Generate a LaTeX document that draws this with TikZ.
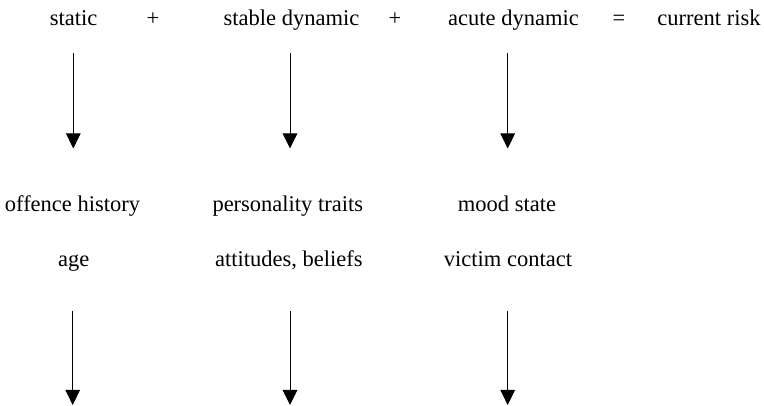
\documentclass[tikz,border=0pt]{standalone}
\usepackage{fontspec}
\setmainfont{Liberation Serif}
\usetikzlibrary{arrows.meta}
\begin{document}
\begin{tikzpicture}[x=1pt,y=-1pt,
  lbl/.style={anchor=base,inner sep=0pt,font=\fontsize{22.5}{27}\selectfont},
  arr/.style={line width=1pt,-{Triangle[width=14.5pt,length=15pt]}}]
\useasboundingbox (0,0) rectangle (764,406);
% top row
\node[lbl] (static) at (73.5,26) {static};
\node[lbl] (p1) at (153,26) {+};
\node[lbl] (stable) at (291.5,26) {stable dynamic};
\node[lbl] (p2) at (395,26) {+};
\node[lbl] (acute) at (513.5,26) {acute dynamic};
\node[lbl] (eq) at (619,26) {=};
\node[lbl] (risk) at (709,26) {current risk};
% middle rows
\node[lbl] (offence) at (72.5,212) {offence history};
\node[lbl] (age) at (73.8,266.5) {age};
\node[lbl] (pers) at (287.8,212) {personality traits};
\node[lbl] (att) at (288.8,266.5) {attitudes, beliefs};
\node[lbl] (mood) at (507,212) {mood state};
\node[lbl] (victim) at (508,266.5) {victim contact};
% arrow ends
\coordinate (s1) at (73.3,53);  \coordinate (e1) at (73.3,148.5);
\coordinate (s2) at (290,53);   \coordinate (e2) at (290,148.5);
\coordinate (s3) at (507.7,53); \coordinate (e3) at (507.7,148.5);
\coordinate (s4) at (72.7,311); \coordinate (e4) at (72.7,405);
\coordinate (s5) at (290,311);  \coordinate (e5) at (290,405);
\coordinate (s6) at (507.7,311);\coordinate (e6) at (507.7,405);
\draw[arr] (s1) -- (e1);
\draw[arr] (s2) -- (e2);
\draw[arr] (s3) -- (e3);
\draw[arr] (s4) -- (e4);
\draw[arr] (s5) -- (e5);
\draw[arr] (s6) -- (e6);
\end{tikzpicture}
\end{document}
